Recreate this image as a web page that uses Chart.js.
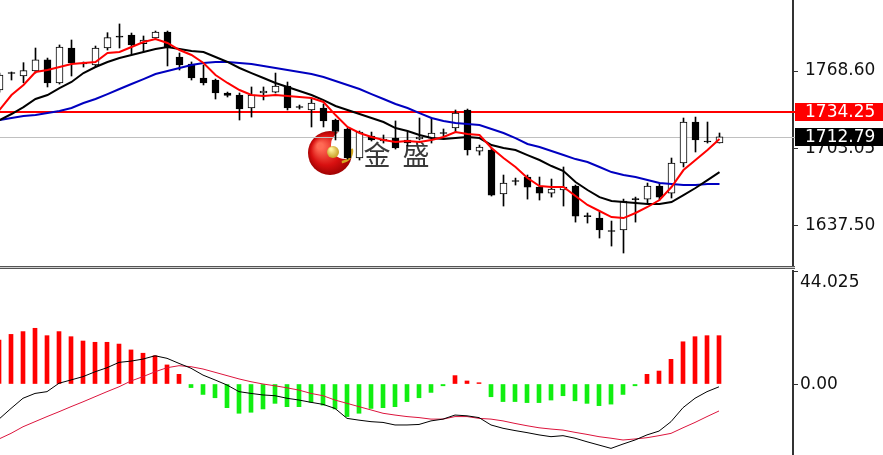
<!DOCTYPE html>
<html>
<head>
<meta charset="utf-8">
<script src="https://cdn.jsdelivr.net/npm/chart.js@4.4.0/dist/chart.umd.min.js"></script>
<style>
html, body { margin: 0; padding: 0; background: #fff; width: 883px; height: 455px; overflow: hidden; }
#price { position: absolute; left: 0; top: 0; }
#sep { position: absolute; left: 0; top: 266px; width: 795px; height: 1px; border-top: 1px solid #555; border-bottom: 1px solid #555; background: #d0d0d0; }
#macd { position: absolute; left: 0; top: 270px; }
</style>
</head>
<body>
<canvas id="price" width="883" height="266"></canvas>
<div id="sep"></div>
<canvas id="macd" width="883" height="185"></canvas>
<script>
// candles, oldest first
const opens  = [1752.5,1766.5,1764.4,1768.6,1778.0,1758.5,1788.1,1774.6,1773.7,1788.1,
                1797.4,1799.1,1791.9,1796.6,1801.7,1780.5,1774.6,1762.7,1761.0,1750.0,
                1748.3,1737.3,1750.0,1750.8,1755.9,1738.1,1735.6,1737.3,1727.1,1719.5,
                1694.9,1713.5,1709.3,1711.8,1710.2,1711.0,1711.8,1715.7,1720.3,1735.6,
                1700.8,1701.7,1664.4,1675.0,1678.8,1670.3,1665.2,1667.8,1671.2,1645.3,
                1644.0,1633.0,1633.9,1659.7,1660.1,1671.2,1665.2,1690.7,1725.4,1708.9,
                1707.6];
const highs  = [1766.9,1767.8,1775.7,1788.1,1779.6,1790.7,1794.9,1776.3,1789.8,1801.1,
                1808.5,1800.8,1798.3,1802.5,1802.5,1783.9,1776.3,1773.7,1761.8,1750.8,
                1750.0,1755.1,1755.1,1766.9,1759.3,1739.8,1744.9,1740.7,1727.9,1720.3,
                1717.8,1716.9,1714.4,1726.3,1716.9,1728.8,1728.8,1719.5,1735.6,1736.4,
                1705.9,1703.4,1680.5,1677.9,1680.5,1678.8,1677.1,1687.3,1672.0,1648.3,
                1649.1,1641.5,1660.1,1661.8,1673.7,1673.7,1694.9,1728.8,1729.6,1725.4,
                1716.1];
const lows   = [1750.8,1761.0,1758.7,1766.9,1755.1,1757.6,1764.4,1772.0,1772.0,1786.4,
                1788.1,1783.0,1784.7,1795.7,1772.9,1769.5,1761.0,1756.8,1744.9,1746.6,
                1727.1,1729.6,1744.1,1750.0,1735.6,1736.4,1721.2,1721.2,1710.2,1694.0,
                1693.2,1709.3,1707.6,1702.5,1705.1,1710.2,1707.6,1713.5,1716.9,1697.4,
                1697.4,1662.7,1654.2,1672.0,1660.1,1659.3,1661.8,1654.2,1640.6,1639.8,
                1627.1,1620.3,1614.4,1640.6,1656.8,1659.3,1661.0,1687.3,1700.0,1707.6,
                1707.6];
const closes = [1765.2,1766.9,1768.9,1778.0,1758.5,1789.0,1775.4,1775.0,1788.1,1796.9,
                1798.3,1790.7,1794.9,1801.7,1788.1,1773.7,1762.7,1758.5,1750.0,1747.9,
                1736.4,1748.3,1751.7,1755.9,1737.3,1737.7,1741.5,1726.3,1717.4,1694.9,
                1716.9,1710.2,1711.0,1703.4,1707.6,1712.7,1716.1,1716.1,1733.0,1701.7,
                1704.2,1663.5,1673.7,1675.4,1670.3,1665.2,1668.6,1670.3,1645.7,1645.7,
                1633.9,1632.6,1658.4,1660.1,1671.2,1661.8,1690.7,1725.4,1710.2,1708.5,
                1712.79];

// moving averages
const maFast = [1735.6,1748.3,1756.8,1767.8,1769.5,1772.0,1774.6,1775.4,1776.3,1783.9,
                1784.7,1789.0,1793.2,1795.7,1792.4,1786.4,1782.2,1775.4,1765.2,1758.5,
                1752.5,1748.3,1747.4,1748.3,1747.4,1746.6,1745.7,1742.4,1731.3,1721.2,
                1716.1,1712.7,1710.1,1708.5,1709.3,1708.5,1710.1,1712.7,1716.9,1715.2,
                1714.4,1703.4,1694.9,1687.3,1677.9,1671.2,1670.3,1670.3,1662.7,1655.1,
                1650.0,1644.9,1644.0,1648.3,1653.4,1659.3,1670.3,1684.7,1693.2,1701.7,
                1711.0];
const maMid  = [1727.1,1732.2,1738.1,1744.9,1748.3,1754.2,1759.3,1766.9,1772.0,1776.3,
                1779.6,1782.2,1784.7,1787.3,1789.0,1787.3,1785.6,1784.7,1780.5,1776.3,
                1771.2,1766.9,1762.7,1758.5,1755.1,1751.7,1748.3,1744.0,1739.0,1735.6,
                1732.2,1728.8,1725.4,1720.3,1717.8,1714.4,1711.8,1711.0,1711.8,1712.7,
                1711.8,1705.9,1703.4,1701.7,1697.4,1693.2,1688.1,1683.9,1674.6,1667.8,
                1661.8,1658.5,1657.6,1656.8,1655.9,1655.9,1657.6,1663.5,1669.5,1676.2,
                1683.0];
const maSlow = [1727.1,1728.8,1730.5,1731.3,1733.0,1734.7,1737.3,1741.5,1744.9,1749.1,
                1753.4,1757.6,1761.8,1766.1,1768.6,1771.2,1773.7,1775.4,1776.3,1776.3,
                1775.4,1774.6,1772.9,1771.2,1769.5,1767.8,1766.1,1763.5,1760.2,1756.8,
                1753.4,1749.1,1744.9,1740.7,1737.3,1733.0,1728.8,1726.3,1724.6,1723.7,
                1722.9,1719.5,1716.1,1711.8,1706.8,1704.2,1700.8,1697.4,1694.0,1691.5,
                1687.3,1683.0,1680.5,1678.8,1676.2,1673.7,1672.9,1672.0,1672.0,1672.9,
                1672.9];

// MACD
const hist = [17.3,19.5,20.6,21.9,19.0,20.6,18.6,16.9,16.4,16.4,
              15.7,13.4,12.1,11.1,7.5,3.8,-1.4,-4.1,-5.4,-9.3,
              -11.5,-11.1,-9.8,-7.6,-8.9,-8.9,-7.2,-8.3,-9.8,-12.8,
              -11.5,-9.6,-9.3,-8.9,-6.9,-5.4,-3.3,-0.7,3.3,1.2,
              0.5,-5.0,-6.9,-6.9,-7.3,-7.3,-6.3,-4.6,-6.6,-7.6,
              -8.5,-7.9,-4.1,-0.7,3.8,5.1,9.7,16.6,18.6,19.0,
              19.0];
const dif  = [-13.8,-9.6,-5.6,-3.7,-3.0,0.3,1.6,2.9,4.8,6.4,
              8.5,9.0,9.8,11.1,10.1,8.1,6.2,3.5,1.6,-0.4,
              -3.0,-3.7,-4.3,-4.6,-5.6,-6.3,-7.2,-8.0,-9.6,-13.5,
              -14.2,-14.8,-15.1,-16.1,-16.1,-15.9,-14.5,-13.8,-12.2,-12.5,
              -13.2,-16.1,-17.4,-18.3,-19.1,-20.0,-20.7,-20.3,-21.3,-22.7,
              -24.0,-25.3,-23.6,-22.0,-20.0,-18.5,-14.8,-9.3,-5.6,-3.0,
              -1.1];
const dea  = [-21.6,-19.4,-16.8,-14.8,-12.8,-10.9,-8.9,-7.0,-5.0,-3.0,
              -1.1,1.2,2.9,4.8,6.4,7.2,6.8,5.9,4.6,3.3,
              2.0,0.9,0.0,-0.7,-1.5,-2.4,-3.7,-4.6,-6.3,-7.6,
              -8.9,-10.2,-11.5,-12.2,-12.8,-13.2,-13.8,-13.8,-12.8,-12.8,
              -13.5,-13.8,-14.5,-15.5,-16.4,-17.2,-17.7,-18.1,-19.0,-19.8,
              -20.7,-21.3,-22.0,-21.6,-21.1,-20.3,-19.4,-17.2,-15.1,-12.8,
              -10.6];

const priceTicks = [1834.15, 1768.60, 1703.05, 1637.50];
const macdTicks = [44.025, 0];
const macdTickLabels = ['44.025', '0.00'];
const resistance = 1734.25;
const lastPrice = 1712.79;

const idx = closes.map((c, i) => i);
const pts = arr => idx.map(i => ({ x: i, y: arr[i] }));
const isDoji = i => Math.abs(closes[i] - opens[i]) < 1;
const bodyFill = idx.map(i => isDoji(i) ? '#000' : (closes[i] > opens[i] ? '#fff' : '#000'));
const axisFont = { family: 'DejaVu Sans', size: 17 };

const priceOverlay = {
    id: 'priceOverlay',
    beforeDatasetsDraw(chart) {
        const ctx = chart.ctx, ys = chart.scales.y, a = chart.chartArea;
        ctx.save();
        // watermark logo
        let g = ctx.createRadialGradient(320, 146, 3, 330, 153, 23);
        g.addColorStop(0, '#ff6a55');
        g.addColorStop(0.6, '#d81010');
        g.addColorStop(1, '#9a0000');
        ctx.fillStyle = g;
        ctx.beginPath(); ctx.arc(330, 153, 22, 0, Math.PI * 2); ctx.fill();
        ctx.fillStyle = '#ffffff';
        ctx.beginPath(); ctx.arc(345, 145, 14, 0, Math.PI * 2); ctx.fill();
        ctx.strokeStyle = '#d4a820'; ctx.lineWidth = 2.5;
        ctx.beginPath(); ctx.arc(341, 151, 11, -0.2, 1.5); ctx.stroke();
        g = ctx.createRadialGradient(331, 149, 1, 333, 152, 7);
        g.addColorStop(0, '#fff4a0');
        g.addColorStop(1, '#c29414');
        ctx.fillStyle = g;
        ctx.beginPath(); ctx.arc(333, 152, 6, 0, Math.PI * 2); ctx.fill();
        ctx.fillStyle = '#3a3a3a';
        ctx.font = '27px "Noto Sans CJK SC"';
        ctx.textAlign = 'center';
        ctx.textBaseline = 'middle';
        ctx.fillText('金', 377, 155);
        ctx.fillText('盛', 416, 155);
        // price lines
        let y = Math.round(ys.getPixelForValue(lastPrice)) + 0.5;
        ctx.strokeStyle = '#c0c0c0'; ctx.lineWidth = 1;
        ctx.beginPath(); ctx.moveTo(a.left, y); ctx.lineTo(a.right + 2, y); ctx.stroke();
        y = Math.round(ys.getPixelForValue(resistance));
        ctx.strokeStyle = '#ff0000'; ctx.lineWidth = 2;
        ctx.beginPath(); ctx.moveTo(a.left, y); ctx.lineTo(a.right + 2, y); ctx.stroke();
        ctx.restore();
    },
    afterDraw(chart) {
        const ctx = chart.ctx, ys = chart.scales.y, a = chart.chartArea;
        ctx.save();
        ctx.font = '17px "DejaVu Sans"';
        ctx.textBaseline = 'middle';
        ctx.textAlign = 'left';
        // top tick label, mostly above the canvas
        ctx.fillStyle = '#111';
        ctx.fillText(priceTicks[0].toFixed(2), a.right + 12, ys.getPixelForValue(priceTicks[0]) + 1);
        [[resistance, '#ff0000'], [lastPrice, '#000']].forEach(([v, bg]) => {
            const y = Math.round(ys.getPixelForValue(v));
            ctx.fillStyle = bg;
            ctx.fillRect(a.right + 2, y - 9, chart.width - a.right - 2, 18);
            ctx.fillStyle = '#fff';
            ctx.fillText(v.toFixed(2), a.right + 12, y + 1);
        });
        ctx.restore();
    }
};

const macdLabels = {
    id: 'macdLabels',
    afterDraw(chart) {
        const ctx = chart.ctx, ys = chart.scales.y, a = chart.chartArea;
        ctx.save();
        ctx.font = '17px "DejaVu Sans"';
        ctx.fillStyle = '#111';
        ctx.textBaseline = 'middle';
        macdTicks.forEach((v, i) => {
            let y = ys.getPixelForValue(v);
            if (y < 10) y += 10;
            ctx.fillText(macdTickLabels[i], a.right + 7, y + 1);
        });
        ctx.restore();
    }
};

function yAxis(min, max, ticks, showLabels) {
    return {
        position: 'right', min: min, max: max,
        afterBuildTicks: s => { s.ticks = ticks.map(v => ({ value: v })); },
        afterFit: s => { s.width = 90; s.paddingTop = 0; s.paddingBottom = 0; },
        ticks: { display: showLabels, autoSkip: false, callback: v => v.toFixed(2), font: axisFont, color: '#111', padding: 7 },
        grid: { drawOnChartArea: false, drawTicks: true, tickLength: 5, color: '#333' },
        border: { display: true, color: '#333', width: 2 }
    };
}

const common = {
    responsive: false, animation: false, events: [],
    layout: { padding: 0 },
    plugins: { legend: { display: false }, tooltip: { enabled: false } }
};

const xTop = 0.5 / 12;
new Chart(document.getElementById('price').getContext('2d'), {
    type: 'bar',
    data: {
        datasets: [
            { type: 'line', data: pts(maFast), borderColor: '#ff0000', borderWidth: 2, pointRadius: 0, order: 0 },
            { type: 'line', data: pts(maMid), borderColor: '#000000', borderWidth: 2, pointRadius: 0, order: 0 },
            { type: 'line', data: pts(maSlow), borderColor: '#0000c0', borderWidth: 2, pointRadius: 0, order: 0 },
            { data: idx.map(i => ({ x: i, y: [opens[i], closes[i]] })), backgroundColor: bodyFill,
              borderColor: '#000', borderWidth: 1, borderSkipped: false, barThickness: 7,
              minBarLength: 1, grouped: false, order: 1 },
            { data: idx.map(i => ({ x: i, y: [lows[i], highs[i]] })), backgroundColor: '#000',
              barThickness: 1, grouped: false, order: 2 }
        ]
    },
    options: Object.assign({}, common, {
        scales: {
            x: { type: 'linear', min: xTop, max: xTop + 793 / 12, display: false, offset: false },
            y: yAxis(1603.4, 1828.8, priceTicks, true)
        }
    }),
    plugins: [priceOverlay]
});

const xBot = 1 / 12;
new Chart(document.getElementById('macd').getContext('2d'), {
    type: 'bar',
    data: {
        datasets: [
            { type: 'line', data: pts(dif), borderColor: '#000000', borderWidth: 1, pointRadius: 0, order: 0 },
            { type: 'line', data: pts(dea), borderColor: '#dc143c', borderWidth: 1, pointRadius: 0, order: 0 },
            { data: pts(hist), backgroundColor: hist.map(v => v >= 0 ? '#ff0000' : '#11ee11'),
              barThickness: 4, grouped: false, order: 1 }
        ]
    },
    options: Object.assign({}, common, {
        scales: {
            x: { type: 'linear', min: xBot, max: xBot + 793 / 12, display: false, offset: false },
            y: yAxis(-27.9, 44.81, macdTicks, false)
        }
    }),
    plugins: [macdLabels]
});
</script>
</body>
</html>
